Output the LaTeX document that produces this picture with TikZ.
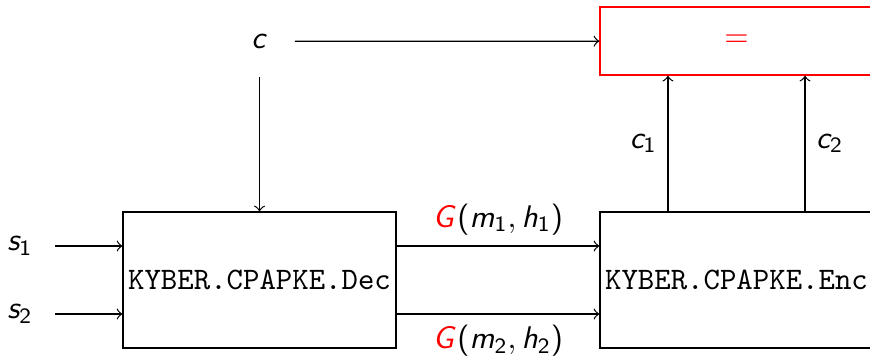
\documentclass[tikz,border=0pt]{standalone}
\usepackage{tikz}
\usetikzlibrary{positioning, calc}
% sans serif maths, as on a slide
\SetSymbolFont{operators}{normal}{OT1}{cmss}{m}{n}
\DeclareMathAlphabet{\mathsfit}{OT1}{cmss}{m}{it}
\newcommand{\sv}[1]{\mathsfit{#1}}
\newcommand{\scomma}{\mathpunct{\mathsf{,}}}

\begin{document}
\begin{tikzpicture}[
    algo/.style={draw, minimum width=3.067cm, minimum height=1.528cm, inner xsep=1.5pt, font=\ttfamily},
    check/.style={draw=red, minimum width=3.067cm, minimum height=0.764cm, inner xsep=1.5pt, text=red},
    lbl/.style={minimum size=0.78cm, inner sep=0pt},
    arrow/.style={->}
  ]
    \clip (0,0) rectangle (9.775,4.0);

    % Boxes
    \node[algo] (dec) at (2.916, 0.854) {KYBER.CPAPKE.Dec};
    \node[algo] (enc) at (8.275, 0.854) {KYBER.CPAPKE.Enc};
    \node[check] (eq) at (8.275, 3.539) {$=$};

    % Inputs
    \node[lbl] (c) at (2.916, 3.535) {$\sv{c}$};
    \node[lbl] (s1) at (0.225, 1.236) {$\sv{s}_1$};
    \node[lbl] (s2) at (0.225, 0.472) {$\sv{s}_2$};

    % Connections
    \draw[arrow] (c) -- (eq);
    \draw[arrow] (c) -- (dec);
    \draw[arrow] (s1) -- (s1 -| dec.west);
    \draw[arrow] (s2) -- (s2 -| dec.west);

    \draw[arrow] (s1 -| dec.east) -- node[above] {$\textcolor{red}{\sv{G}}(\sv{m}_1\scomma \sv{h}_1)$} (s1 -| enc.west);
    \draw[arrow] (s2 -| dec.east) -- node[below] {$\textcolor{red}{\sv{G}}(\sv{m}_2\scomma \sv{h}_2)$} (s2 -| enc.west);

    \draw[arrow] ($(enc.north west)!0.25!(enc.north east)$) -- node[left] {$\sv{c}_1$} ($(eq.south west)!0.25!(eq.south east)$);
    \draw[arrow] ($(enc.north west)!0.75!(enc.north east)$) -- node[right] {$\sv{c}_2$} ($(eq.south west)!0.75!(eq.south east)$);
  \end{tikzpicture}
\end{document}
